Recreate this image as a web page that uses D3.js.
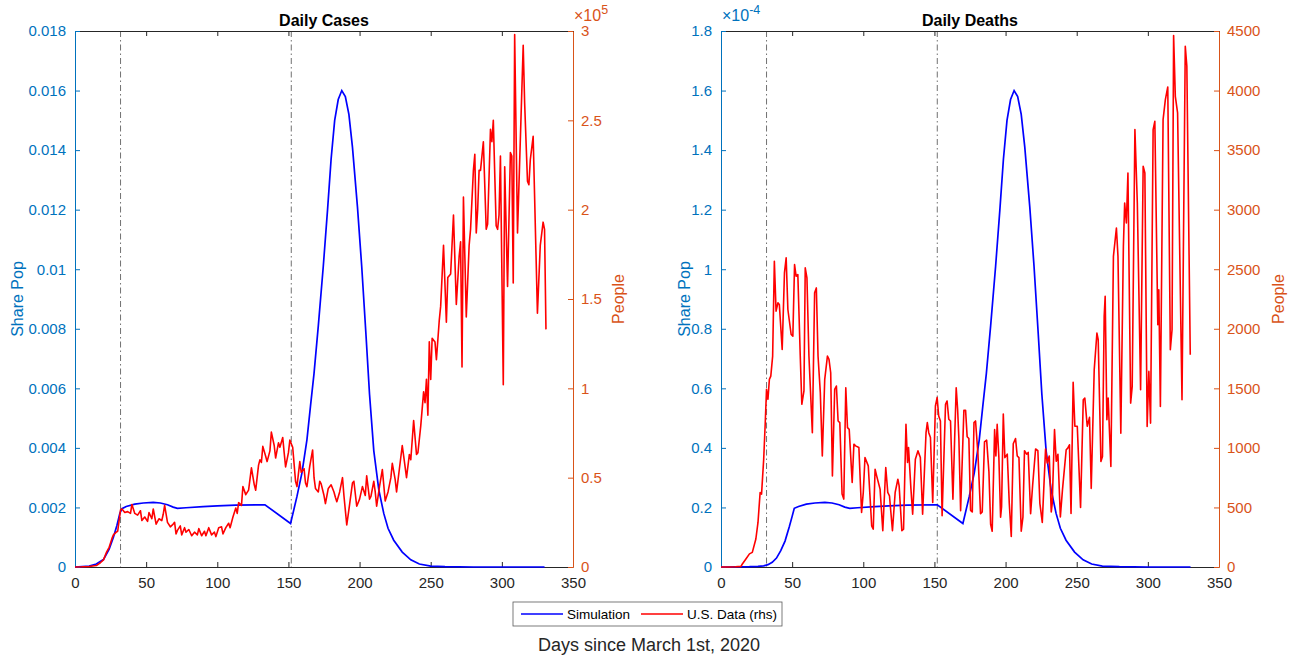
<!DOCTYPE html>
<html>
<head>
<meta charset="utf-8">
<script src="https://d3js.org/d3.v7.min.js"></script>
<style>
  body { margin: 0; background: #fff; }
  svg { font-family: "Liberation Sans", Arial, Helvetica, sans-serif; }
  .tick text { font-size: 15px; }
</style>
</head>
<body>
<svg id="chart" width="1301" height="658"></svg>
<script>
// ---- data ----
const dayTicks = [0, 50, 100, 150, 200, 250, 300, 350];
const policyDays = [32, 152];

// Daily cases: simulation (share of population) and US data (people)
const caseShareTicks = [0, 0.002, 0.004, 0.006, 0.008, 0.01, 0.012, 0.014, 0.016, 0.018];
const casePeopleTicks = [0, 50000, 100000, 150000, 200000, 250000, 300000];
const caseSim = [[0,0],[10,0.00003],[15,0.0001],[20,0.00025],[24,0.0006],[27,0.001],[29.5,0.0014],
  [31.5,0.0018],[33,0.00196],[36,0.00203],[42,0.00211],[48,0.00215],[55,0.00217],[60,0.00215],
  [65,0.00209],[69,0.00201],[72,0.00197],[78,0.00199],[90,0.00203],[100,0.00205],[113,0.00208],
  [133.5,0.00209],[151.5,0.00146],[156,0.00237],[159.5,0.00316],[163,0.00427],[165.5,0.0054],
  [168,0.0065],[171,0.0081],[174.5,0.0101],[177.5,0.012],[180,0.0137],[182.5,0.015],[185,0.0157],
  [187.5,0.016],[190,0.0158],[192.5,0.0152],[195,0.0141],[198.5,0.0121],[201.5,0.0101],
  [204.5,0.0078],[207,0.0058],[210,0.0039],[213.5,0.0026],[217,0.0018],[220,0.0013],[224,0.0009],
  [230,0.0005],[236,0.00024],[242,0.0001],[250,0.00003],[260,0.00001],[280,0],[330,0]];
const caseUS = [[0,0],[5,100],[10,300],[15,800],[18,2500],[20,4000],[22,8000],[24,11000],[26,16000],
  [27,18000],[29,19500],[30,20000],[31,26000],[32,32000],[33,32500],[35,30500],[37,31000],[39,30000],
  [40,35000],[42,30000],[44,29000],[46,31500],[47,26000],[49,28000],[51,25500],[52,30500],[54,27000],
  [55,32500],[57,24000],[59,27000],[61,26000],[62,29500],[63,34500],[65,25000],[67,22500],[69,24000],
  [70,25000],[71,18500],[72,20500],[74,23000],[75,18000],[77,22000],[78,19500],[80,21000],[82,17500],
  [84,19500],[86,18000],[87,21500],[89,17500],[91,20000],[92,17500],[94,22000],[96,18000],[98,19500],
  [99,17000],[101,22000],[103,22500],[104,18500],[106,22000],[108,24500],[109,22000],[111,28000],
  [113,33000],[114,30000],[115,36000],[117,34500],[118,45000],[120,40500],[122,43000],[124,55500],
  [126,46000],[127,43000],[129,57000],[130,60000],[131,58500],[132,67500],[134,62000],[135,59000],
  [137,65000],[138,75500],[140,68000],[141,61000],[143,69500],[144,67000],[146,72500],[147,64000],
  [148,56000],[149,60000],[150,64000],[151,71000],[152,69000],[153,67000],[155,48000],[156,45000],
  [158,59000],[159,53000],[161,55000],[162,47000],[163,45000],[165,56500],[167,65500],[168,50000],
  [169,44000],[171,42000],[172,48000],[173,46500],[175,40000],[176,35500],[178,44000],[180,46000],
  [182,42000],[183,39000],[184,36500],[186,42000],[188,50000],[189,40000],[191,23500],[193,35000],
  [195,47000],[196,48000],[198,34000],[200,38000],[202,45000],[204,40000],[205,51000],[207,38000],
  [208,39500],[210,48000],[211,42000],[212,34000],[214,45000],[216,54500],[217,46000],[218,37000],
  [220,42000],[222,50000],[223,58000],[225,49000],[226,42000],[228,55000],[230,68000],[231,62000],
  [233,50000],[235,63000],[236,60000],[238,82000],[240,63000],[241,64000],[243,79000],[245,98000],
  [246,92000],[247,105000],[248,85000],[249,126000],[250,105000],[251,128000],[253,126000],
  [254,116000],[256,138000],[257,146000],[259,180000],[261,137000],[262,162000],[264,164000],
  [266,197000],[268,147000],[270,174000],[271,182000],[272,112000],[273,207000],[275,140000],
  [277,180000],[278,189000],[280,222000],[281,231000],[282,187000],[283,200000],[284,222000],
  [285,222000],[287,238000],[289,189000],[290,192000],[292,245000],[293,238000],[294,250000],
  [295,220000],[296,191000],[297,189000],[298,197000],[299,230000],[301,102000],[302,224000],
  [304,157000],[306,232000],[307,230000],[308,159000],[309,298000],[311,187000],[315,292000],
  [316,260000],[318,216000],[319,214000],[320,228000],[322,241000],[325,142000],[327,180000],
  [329,193000],[330,189000],[331,133000]];

// Daily deaths: simulation (share of population, x1e-4) and US data (people)
const deathShareTicks = [0, 0.2, 0.4, 0.6, 0.8, 1, 1.2, 1.4, 1.6, 1.8];
const deathPeopleTicks = [0, 500, 1000, 1500, 2000, 2500, 3000, 3500, 4000, 4500];
const deathSim = [[0,0],[20,0.001],[26,0.002],[30,0.004],[33,0.008],[36,0.016],[39,0.03],[42,0.055],
  [45,0.087],[48,0.135],[50,0.17],[51.5,0.197],[54.5,0.203],[60,0.211],[66,0.215],[73,0.217],
  [78,0.215],[83,0.209],[87,0.201],[90.5,0.197],[96,0.199],[108,0.203],[118,0.205],[131,0.208],
  [152,0.209],[170,0.146],[174.5,0.237],[178,0.316],[181.5,0.427],[184,0.54],[186.5,0.65],
  [189.5,0.81],[193,1.01],[196,1.2],[198.5,1.37],[201,1.5],[203.5,1.57],[206,1.6],[208.5,1.58],
  [211,1.52],[213.5,1.41],[217,1.21],[220,1.01],[223,0.78],[225.5,0.58],[228.5,0.39],[232,0.26],
  [235.5,0.18],[238.5,0.13],[242.5,0.09],[248.5,0.05],[254.5,0.024],[260.5,0.01],[268,0.003],
  [280,0.001],[300,0],[330,0]];
const deathUS = [[0,0],[5,0],[10,2],[14,5],[15,25],[17.5,67],[20,110],[22,123],[24.5,235],[26,374],
  [27.5,626],[28.5,612],[30,905],[31,1184],[32,1491],[33,1408],[34,1575],[35,1603],[36.3,1771],
  [37.5,2567],[38.7,2148],[40,2218],[41,2204],[43,1827],[44.6,2469],[45.8,2595],[47,2162],
  [49.3,1952],[50.5,1938],[51.7,2539],[52.8,2441],[54,2455],[55.7,1771],[56.8,1366],[58.3,1478],
  [59.2,2511],[60.4,2427],[61.8,1771],[64.2,1128],[65.8,2302],[67,2343],[68.2,1771],[69.8,1464],
  [71.2,933],[72.9,1575],[74.8,1771],[75.9,1743],[77.1,1631],[78.3,765],[79.9,1491],[81.1,1519],
  [82.3,1226],[83.5,1212],[85.1,612],[86.3,570],[87.7,1505],[88.9,1170],[90.1,1156],[92.2,709],
  [93.4,1031],[94.6,1017],[96.9,1003],[98.8,458],[100,626],[101.2,919],[103.5,849],[105.9,346],
  [107,318],[108.3,821],[109.4,765],[111.8,654],[113.7,304],[115.8,835],[117.2,626],[118.4,598],
  [120.5,304],[122.4,626],[124.3,737],[125.2,681],[127.1,304],[128.3,318],[130,1198],[131.1,877],
  [131.8,1003],[133.5,654],[134.7,444],[136.6,905],[138.4,975],[140.1,919],[141.7,444],[144.1,1128],
  [145,1212],[146,1128],[147.2,1087],[148.8,542],[150.7,1352],[151.9,1422],[153,1268],[154.2,1226],
  [155.4,430],[157.8,1366],[158.9,1394],[160.1,1240],[161.3,1226],[163,570],[164.2,1073],
  [165.3,1505],[166.3,1324],[167.2,1073],[168.4,472],[170.7,1315],[171.9,1315],[173,1094],
  [174.2,1079],[175.4,476],[176.6,462],[177.8,1212],[178.9,1226],[180.6,947],[182.4,447],
  [183.6,462],[185.2,1050],[186.7,1065],[188.3,800],[189.5,359],[190.6,300],[192.3,1153],
  [193.2,932],[194.1,1197],[195.3,918],[196.5,418],[197.2,506],[198.4,1285],[199.5,918],
  [201.2,947],[202.6,535],[204,256],[205.4,1035],[207,1079],[208.2,932],[209.4,918],[211,300],
  [212.2,418],[213.3,976],[214.8,947],[215.9,962],[217.6,447],[219,682],[221.1,991],[222.7,976],
  [224.1,535],[225.8,374],[228.1,991],[229.3,873],[230.7,932],[232.1,462],[232.8,535],[234.4,1153],
  [235.6,888],[236.8,947],[238.5,420],[240,650],[242.6,984],[243.7,998],[244.9,1026],[246,450],
  [247.5,1550],[248.7,1182],[250.4,1182],[252.7,500],[254.6,1403],[255.7,1418],[257.4,1182],
  [259,1256],[260.2,660],[262.3,1656],[264.2,1964],[265.1,1908],[267,886],[268.1,928],[269.3,2104],
  [270,2272],[271.2,1236],[272.1,1418],[274,844],[275.8,2608],[277.9,2846],[279,2608],[281,1124],
  [282.8,2692],[283.7,3056],[284.9,2888],[286,3308],[287.9,1376],[289,1516],[290.9,3672],
  [292.6,3056],[294.9,1488],[296.7,3364],[297.9,3308],[299.5,1180],[300.7,1642],[301.9,1208],
  [303.7,3672],[304.9,3742],[307,2034],[307.7,2328],[308.8,1348],[310.7,3756],[312.3,3924],
  [314,4030],[315.8,1824],[317,1992],[318.1,4462],[319.3,3952],[320.9,3812],[324,1404],
  [326.3,4372],[327.4,4204],[329.8,1782]];

const legendLabels = ["Simulation", "U.S. Data (rhs)"];

// ---- styling ----
const leftColor = "#0072BD";
const rightColor = "#D95319";
const simColor = "#0000FF";
const dataColor = "#FF0000";
const axisGray = "#262626";

const svg = d3.select("#chart");
svg.append("rect").attr("width", 1301).attr("height", 658).attr("fill", "#fff");

const plotTop = 31, plotBottom = 567;

function drawPanel(opts) {
  const x = d3.scaleLinear().domain([0, 350]).range([opts.x0, opts.x1]);
  const yL = d3.scaleLinear().domain(opts.leftDomain).range([plotBottom, plotTop]);
  const yR = d3.scaleLinear().domain(opts.rightDomain).range([plotBottom, plotTop]);
  const g = svg.append("g");

  // policy lines
  g.selectAll("line.policy").data(policyDays).enter().append("line")
    .attr("class", "policy")
    .attr("x1", d => x(d)).attr("x2", d => x(d))
    .attr("y1", plotTop).attr("y2", plotBottom)
    .attr("stroke", "#4d4d4d").attr("stroke-width", 0.8)
    .attr("stroke-dasharray", "6,3,1.5,3");

  // top box line with ticks
  const topAxis = g.append("g").attr("transform", `translate(0,${plotTop})`)
    .call(d3.axisTop(x).tickValues(dayTicks).tickSizeInner(-5).tickSizeOuter(0).tickFormat(""));
  topAxis.select(".domain").attr("stroke", axisGray);
  topAxis.selectAll(".tick line").attr("stroke", axisGray);

  // bottom axis
  const botAxis = g.append("g").attr("transform", `translate(0,${plotBottom})`)
    .call(d3.axisBottom(x).tickValues(dayTicks).tickSizeInner(-5).tickSizeOuter(0).tickPadding(10));
  botAxis.select(".domain").attr("stroke", axisGray);
  botAxis.selectAll(".tick line").attr("stroke", axisGray);
  botAxis.selectAll(".tick text").attr("fill", axisGray).attr("dy", "0.75em");

  // left axis
  const la = g.append("g").attr("transform", `translate(${opts.x0},0)`)
    .call(d3.axisLeft(yL).tickValues(opts.leftTicks).tickSizeInner(-5).tickSizeOuter(0)
      .tickPadding(9).tickFormat(opts.leftFmt));
  la.select(".domain").attr("stroke", leftColor);
  la.selectAll(".tick line").attr("stroke", leftColor);
  la.selectAll(".tick text").attr("fill", leftColor);

  // right axis
  const ra = g.append("g").attr("transform", `translate(${opts.x1},0)`)
    .call(d3.axisRight(yR).tickValues(opts.rightTicks).tickSizeInner(-5).tickSizeOuter(0)
      .tickPadding(8).tickFormat(opts.rightFmt));
  ra.select(".domain").attr("stroke", rightColor);
  ra.selectAll(".tick line").attr("stroke", rightColor);
  ra.selectAll(".tick text").attr("fill", rightColor);

  // lines
  const simLine = d3.line().x(d => x(d[0])).y(d => yL(d[1]));
  const dataLine = d3.line().x(d => x(d[0])).y(d => yR(d[1]));
  g.append("path").datum(opts.sim).attr("d", simLine)
    .attr("fill", "none").attr("stroke", simColor).attr("stroke-width", 1.7);
  g.append("path").datum(opts.data).attr("d", dataLine)
    .attr("fill", "none").attr("stroke", dataColor).attr("stroke-width", 1.6)
    .attr("stroke-linejoin", "round");

  // title
  g.append("text").attr("x", (opts.x0 + opts.x1) / 2).attr("y", 26)
    .attr("text-anchor", "middle").attr("font-size", 16).attr("font-weight", "bold")
    .attr("fill", "#000").text(opts.title);

  // axis labels
  const midY = (plotTop + plotBottom) / 2;
  g.append("text").attr("transform", `translate(${opts.leftLabelX},${midY}) rotate(-90)`)
    .attr("text-anchor", "middle").attr("font-size", 16).attr("fill", leftColor).text("Share Pop");
  g.append("text").attr("transform", `translate(${opts.rightLabelX},${midY}) rotate(-90)`)
    .attr("text-anchor", "middle").attr("font-size", 16).attr("fill", rightColor).text("People");

  // exponent label (x10^n above the axis)
  const ex = g.append("text").attr("x", opts.expSide === "left" ? opts.x0 + 1 : opts.x1 + 1)
    .attr("y", 21).attr("font-size", 16)
    .attr("fill", opts.expSide === "left" ? leftColor : rightColor);
  ex.append("tspan").text("\u00d710");
  ex.append("tspan").attr("dy", -7).attr("font-size", 12.5).text(opts.exp);
}

drawPanel({
  x0: 75, x1: 573, title: "Daily Cases",
  leftDomain: [0, 0.018], rightDomain: [0, 300000],
  leftTicks: caseShareTicks, rightTicks: casePeopleTicks,
  leftFmt: d => d === 0 ? "0" : String(+d.toFixed(3)),
  rightFmt: d => String(d / 100000),
  sim: caseSim, data: caseUS, expSide: "right", exp: "5",
  leftLabelX: 23, rightLabelX: 624
});

drawPanel({
  x0: 721, x1: 1219, title: "Daily Deaths",
  leftDomain: [0, 1.8], rightDomain: [0, 4500],
  leftTicks: deathShareTicks, rightTicks: deathPeopleTicks,
  leftFmt: d => String(+d.toFixed(1)),
  rightFmt: d => String(d),
  sim: deathSim, data: deathUS, expSide: "left", exp: "-4",
  leftLabelX: 690, rightLabelX: 1284
});

// legend
const lg = svg.append("g").attr("transform", "translate(513,602)");
lg.append("rect").attr("width", 269).attr("height", 24)
  .attr("fill", "#fff").attr("stroke", "#5a5a5a").attr("stroke-width", 0.8);
const legendColors = [simColor, dataColor];
const legendX = [8, 128];
legendLabels.forEach((lab, i) => {
  lg.append("line").attr("x1", legendX[i]).attr("x2", legendX[i] + 42)
    .attr("y1", 12).attr("y2", 12)
    .attr("stroke", legendColors[i]).attr("stroke-width", 1.7);
  lg.append("text").attr("x", legendX[i] + 46).attr("y", 17)
    .attr("font-size", 13.5).attr("fill", "#000").text(lab);
});

// shared x label
svg.append("text").attr("x", 649).attr("y", 651).attr("text-anchor", "middle")
  .attr("font-size", 18).attr("fill", axisGray).text("Days since March 1st, 2020");
</script>
</body>
</html>
